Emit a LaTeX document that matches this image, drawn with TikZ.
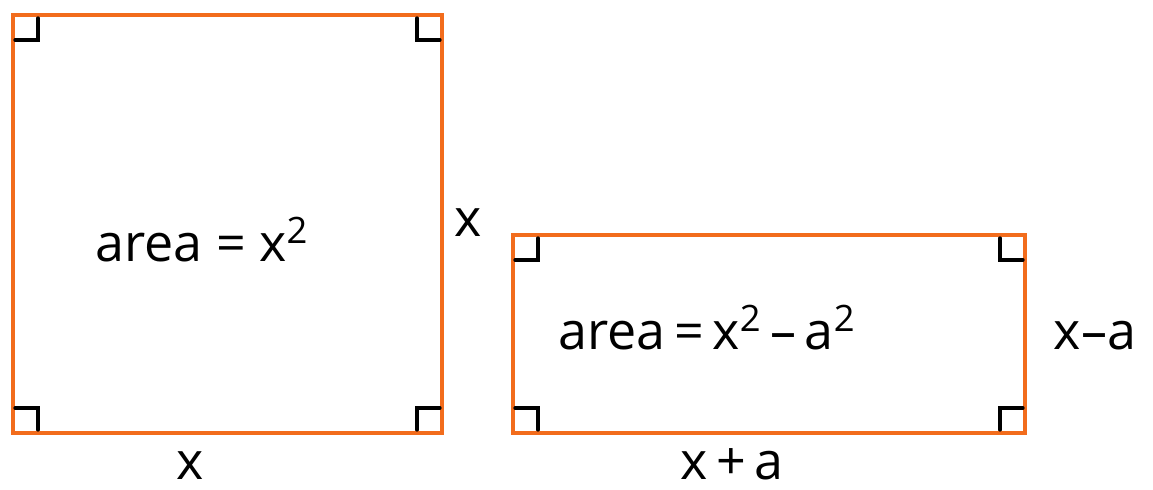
\documentclass[tikz,border=0pt]{standalone}
\usepackage{fontspec}
\setmainfont{Open Sans}
\usetikzlibrary{positioning, calc}
\definecolor{edgeorange}{RGB}{242,108,28}

\begin{document}
\begin{tikzpicture}[
    x=0.5pt, y=-0.5pt,
    side/.style={draw=edgeorange, line width=2pt},
    corner/.style={draw=black, line width=1.6pt, line cap=round},
    lbl/.style={font=\fontsize{26}{30}\selectfont, inner sep=0pt, anchor=base},
]
\useasboundingbox (0,0) rectangle (1153,490);

% Square and rectangle
\coordinate (sqTL) at (13,15);
\coordinate (sqBR) at (442,433);
\coordinate (reTL) at (513,235);
\coordinate (reBR) at (1025,433);
\draw[side] (sqTL) rectangle (sqBR);
\draw[side] (reTL) rectangle (reBR);

% Right angle marks
\foreach \l/\t/\r/\b in {13/15/442/433, 513/235/1025/433} {
  \draw[corner] (\l+2,\t+25) -| (\l+25,\t+3);
  \draw[corner] (\r-25,\t+3) |- (\r-2,\t+25);
  \draw[corner] (\l+2,\b-25) -| (\l+25,\b-3);
  \draw[corner] (\r-25,\b-3) |- (\r-2,\b-25);
}

% Labels
\node[lbl] (sqarea) at (202,262) {area = x\textsuperscript{2}};
\node[lbl] (sqside) at (468,237) {x};
\node[lbl] (sqbase) at (190,480) {x};
\node[lbl] (rearea) at (707,350) {area\,=\,x\textsuperscript{2}\,--\,a\textsuperscript{2}};
\node[lbl] (reside) at (1095,350) {x--a};
\node[lbl] (rebase) at (732,480) {x\,+\,a};
\end{tikzpicture}
\end{document}
